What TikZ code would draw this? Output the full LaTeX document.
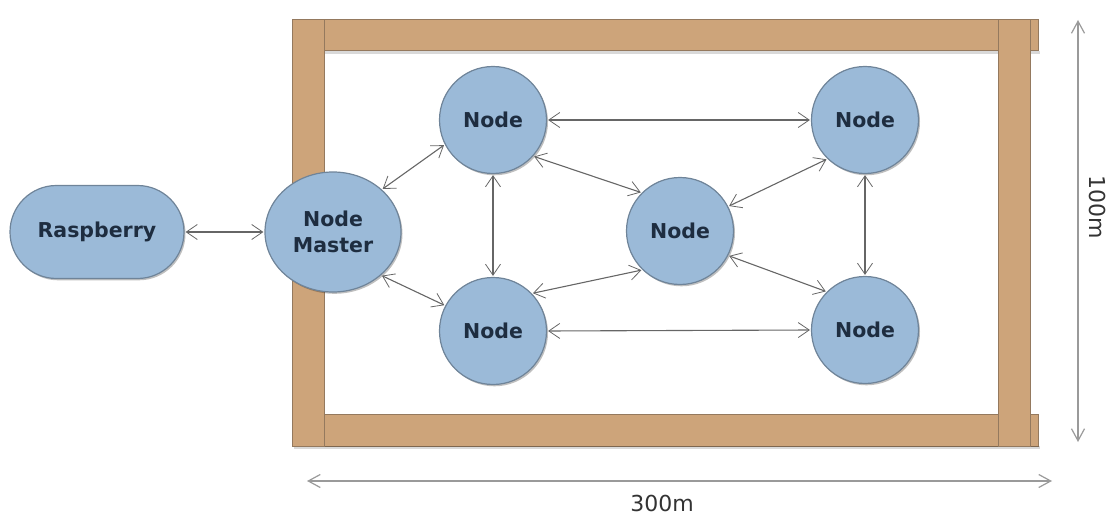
\documentclass[tikz,border=0pt]{standalone}
\usepackage{fontspec}
\setmainfont{DejaVu Sans}
\usetikzlibrary{arrows.meta,shapes.geometric,shapes.misc,shadows}

\definecolor{nodefill}{HTML}{9BBAD8}
\definecolor{nodeedge}{HTML}{6F8499}
\definecolor{nodetext}{HTML}{1E2D40}
\definecolor{wood}{HTML}{CDA47A}
\definecolor{woodedge}{HTML}{94795E}
\definecolor{linkgray}{HTML}{666666}
\definecolor{dimgray}{HTML}{9A9A9A}

\tikzset{
  softshadow/.style={drop shadow={shadow xshift=1.5pt,shadow yshift=-1.8pt,opacity=0.25,fill=black}},
  station/.style={circle, minimum size=107pt, inner sep=0pt, fill=nodefill, draw=nodeedge,
    line width=1.2pt, softshadow, text=nodetext, font=\fontsize{20.5}{26}\selectfont\bfseries, align=center},
  master/.style={station, ellipse, minimum width=136pt, minimum height=120pt},
  hostbox/.style={rounded rectangle, minimum width=174pt, minimum height=93pt, inner sep=0pt,
    fill=nodefill, draw=nodeedge, line width=1.2pt, softshadow, text=nodetext,
    font=\fontsize{20.5}{26}\selectfont\bfseries},
  link/.style={draw=linkgray, line width=1.1pt,
    {Straight Barb[length=11pt,width=15pt,line width=0.8pt]}-{Straight Barb[length=11pt,width=15pt,line width=0.8pt]},
    shorten <=1pt, shorten >=1pt},
  dimline/.style={draw=dimgray, line width=1.8pt,
    {Straight Barb[length=12pt,width=13pt,line width=1.2pt]}-{Straight Barb[length=12pt,width=13pt,line width=1.2pt]}},
  dimlabel/.style={text=black!80, font=\fontsize{22}{24}\selectfont, inner sep=1pt},
  beam/.style={fill=wood, draw=woodedge, line width=0.8pt}
}

\begin{document}
\begin{tikzpicture}[x=1pt,y=-1pt]
  \useasboundingbox (0,0) rectangle (1106,516);

  % wooden frame: beams first, posts on top
  \fill[black, opacity=0.15] (297,51) rectangle (1040,54);
  \path[beam] (295,19) rectangle (1038,50);
  \path[beam] (295,414) rectangle (1038,446);
  \fill[black, opacity=0.15] (294,446) rectangle (1040,449);
  \path[beam] (292,19) rectangle (324,446);
  \path[beam] (998,19) rectangle (1030,446);

  % nodes
  \node[hostbox] (rpi) at (97,232) {Raspberry};
  \node[master]  (nm)  at (333,232) {Node\\Master};
  \node[station] (tl)  at (493,120) {Node};
  \node[station] (tr)  at (865,120) {Node};
  \node[station] (mid) at (680,231) {Node};
  \node[station] (bl)  at (493,331) {Node};
  \node[station] (br)  at (865,330) {Node};

  % links
  \draw[link] (rpi.east) -- (nm.west);
  \draw[link] (nm.41) -- (tl.207);
  \draw[link] (nm.-42) -- (bl.152);
  \draw[link] (tl.east) -- (tr.west);
  \draw[link] (bl.east) -- (br.west);
  \draw[link] (tl.south) -- (bl.north);
  \draw[link] (tr.south) -- (br.north);
  \draw[link] (tl.-42) -- (mid.135);
  \draw[link] (mid.27) -- (tr.226);
  \draw[link] (mid.226) -- (bl.44);
  \draw[link] (mid.-27) -- (br.135);

  % dimensions
  \coordinate (wl) at (307,481);
  \coordinate (wr) at (1052,481);
  \coordinate (ht) at (1078,20);
  \coordinate (hb) at (1078,442);
  \draw[dimline] (wl) -- (wr);
  \draw[dimline] (ht) -- (hb);
  \node[dimlabel] (wlabel) at (662,503) {300m};
  \node[dimlabel, rotate=-90] (hlabel) at (1097,207) {100m};
\end{tikzpicture}
\end{document}
